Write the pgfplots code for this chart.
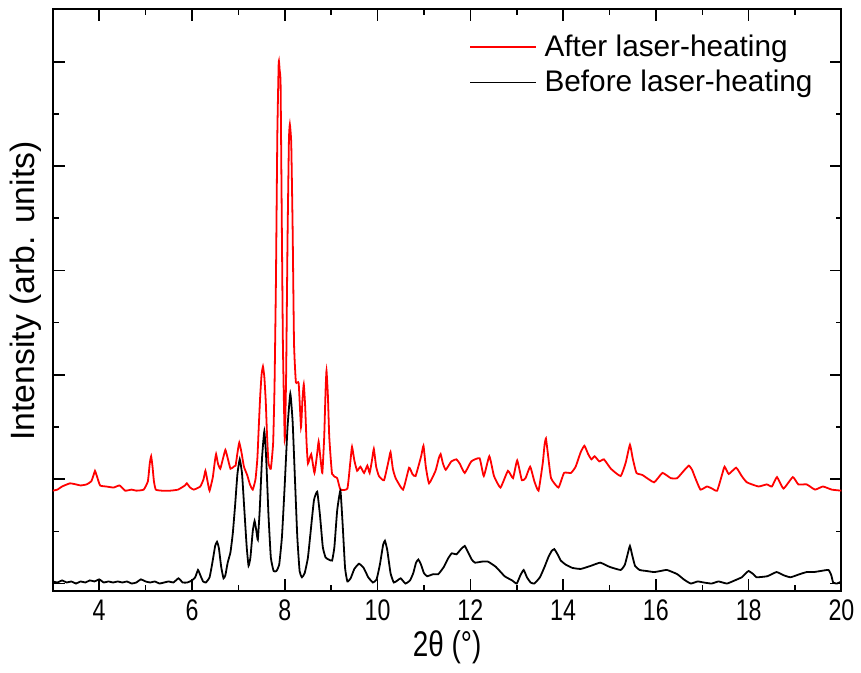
\documentclass[border=0pt]{standalone}
\usepackage{fontspec}
\setmainfont{Liberation Sans}
\newfontfamily\narrowfont[FakeStretch=0.78]{Liberation Sans}
\usepackage{pgfplots}
\pgfplotsset{compat=1.18}

% XRD pattern before laser heating
\pgfplotstableread{
x y
3.00 0.02
3.10 0.01
3.20 0.03
3.30 0.01
3.40 0.02
3.50 0.00
3.60 0.02
3.70 0.01
3.80 0.03
3.90 0.02
4.00 0.04
4.10 0.01
4.20 0.02
4.30 0.01
4.40 0.02
4.50 0.01
4.60 0.02
4.70 0.00
4.80 0.01
4.90 0.04
5.00 0.02
5.10 0.01
5.20 0.02
5.30 0.00
5.40 0.01
5.50 0.02
5.60 0.01
5.71 0.05
5.80 0.01
5.90 0.01
6.00 0.03
6.07 0.06
6.13 0.13
6.18 0.08
6.24 0.02
6.30 0.01
6.38 0.06
6.44 0.20
6.50 0.36
6.54 0.40
6.58 0.34
6.63 0.16
6.68 0.05
6.72 0.08
6.77 0.20
6.83 0.30
6.88 0.48
6.93 0.75
6.98 1.05
7.03 1.19
7.08 1.05
7.13 0.70
7.18 0.35
7.22 0.17
7.26 0.25
7.31 0.50
7.35 0.60
7.39 0.50
7.42 0.42
7.46 0.70
7.51 1.20
7.56 1.46
7.60 1.20
7.65 0.65
7.70 0.25
7.76 0.12
7.82 0.12
7.88 0.18
7.94 0.45
8.00 0.95
8.06 1.50
8.12 1.82
8.17 1.55
8.22 1.00
8.27 0.45
8.32 0.12
8.37 0.06
8.43 0.10
8.50 0.25
8.57 0.55
8.63 0.80
8.70 0.88
8.76 0.65
8.82 0.35
8.88 0.25
8.95 0.23
9.02 0.22
9.07 0.35
9.13 0.70
9.20 0.89
9.25 0.55
9.30 0.15
9.35 0.02
9.42 0.05
9.50 0.14
9.60 0.19
9.70 0.15
9.80 0.06
9.90 0.01
9.98 0.04
10.05 0.18
10.12 0.37
10.16 0.41
10.21 0.32
10.28 0.10
10.35 0.01
10.43 0.03
10.50 0.05
10.60 0.00
10.70 0.03
10.77 0.10
10.83 0.20
10.88 0.23
10.93 0.19
11.00 0.10
11.07 0.07
11.20 0.09
11.31 0.09
11.43 0.16
11.52 0.24
11.60 0.29
11.70 0.28
11.80 0.33
11.88 0.36
11.95 0.30
12.03 0.23
12.10 0.20
12.25 0.21
12.38 0.21
12.55 0.16
12.74 0.07
12.90 0.03
13.00 0.00
13.08 0.08
13.15 0.13
13.22 0.06
13.30 0.01
13.38 0.00
13.50 0.06
13.60 0.16
13.68 0.25
13.75 0.31
13.81 0.33
13.88 0.28
13.95 0.22
14.06 0.18
14.20 0.15
14.38 0.14
14.60 0.17
14.80 0.20
15.00 0.16
15.24 0.13
15.33 0.18
15.39 0.28
15.44 0.36
15.49 0.27
15.55 0.17
15.65 0.13
15.80 0.12
15.96 0.11
16.10 0.12
16.24 0.13
16.46 0.09
16.60 0.04
16.75 0.00
16.90 0.02
17.03 0.01
17.20 0.00
17.35 0.02
17.53 0.00
17.70 0.03
17.85 0.06
17.94 0.10
18.00 0.12
18.10 0.09
18.17 0.06
18.40 0.07
18.60 0.11
18.75 0.08
18.90 0.06
19.10 0.09
19.25 0.11
19.40 0.11
19.55 0.12
19.72 0.13
19.78 0.08
19.82 0.01
19.90 0.00
20.00 0.02
}\before

% XRD pattern after laser heating (offset)
\pgfplotstableread{
x y
3.00 0.89
3.10 0.90
3.20 0.93
3.37 0.96
3.50 0.95
3.60 0.94
3.73 0.95
3.83 0.98
3.88 1.04
3.91 1.08
3.95 1.03
4.02 0.94
4.15 0.93
4.31 0.92
4.44 0.94
4.56 0.89
4.70 0.90
4.80 0.89
4.96 0.90
5.05 0.98
5.09 1.15
5.12 1.22
5.15 1.12
5.18 0.98
5.22 0.90
5.35 0.89
5.53 0.89
5.70 0.90
5.85 0.94
5.89 0.96
5.96 0.92
6.04 0.90
6.18 0.93
6.25 1.00
6.29 1.08
6.34 0.97
6.38 0.89
6.45 1.02
6.49 1.16
6.52 1.24
6.56 1.15
6.61 1.10
6.67 1.20
6.72 1.28
6.76 1.22
6.83 1.10
6.90 1.12
6.94 1.13
6.98 1.25
7.02 1.35
7.07 1.25
7.12 1.12
7.19 1.04
7.25 0.95
7.31 0.90
7.37 1.00
7.41 1.20
7.44 1.50
7.47 1.79
7.50 2.00
7.53 2.08
7.56 1.98
7.59 1.75
7.62 1.40
7.65 1.15
7.70 1.10
7.75 1.35
7.78 1.90
7.81 2.90
7.84 4.30
7.87 5.00
7.89 4.92
7.91 4.80
7.93 3.80
7.96 2.30
8.00 1.38
8.03 2.00
8.06 3.30
8.09 4.25
8.11 4.40
8.14 4.22
8.17 3.40
8.20 2.30
8.24 1.93
8.30 1.92
8.35 1.50
8.38 1.75
8.41 1.91
8.44 1.70
8.47 1.35
8.50 1.15
8.57 1.24
8.64 1.06
8.70 1.25
8.73 1.36
8.77 1.20
8.81 1.06
8.85 1.40
8.88 1.85
8.90 2.04
8.93 1.80
8.96 1.40
9.02 1.05
9.13 1.01
9.20 0.90
9.35 0.91
9.41 1.15
9.45 1.31
9.50 1.18
9.56 1.08
9.63 1.12
9.71 1.06
9.78 1.13
9.83 1.06
9.88 1.18
9.92 1.29
9.97 1.12
10.03 1.03
10.14 0.99
10.24 1.18
10.28 1.26
10.33 1.10
10.39 1.01
10.55 0.90
10.68 1.11
10.75 1.05
10.82 1.03
10.94 1.22
10.99 1.32
11.04 1.12
11.11 0.96
11.25 1.08
11.32 1.20
11.36 1.24
11.41 1.15
11.47 1.09
11.59 1.17
11.70 1.19
11.77 1.15
11.88 1.06
12.02 1.17
12.20 1.20
12.29 1.03
12.41 1.22
12.51 1.03
12.65 0.92
12.81 1.08
12.92 1.01
13.01 1.18
13.11 0.99
13.19 1.01
13.29 1.12
13.38 0.98
13.47 0.89
13.56 1.15
13.60 1.33
13.63 1.39
13.67 1.25
13.74 1.01
13.90 0.92
14.02 1.06
14.17 1.06
14.27 1.12
14.38 1.26
14.46 1.32
14.54 1.24
14.61 1.19
14.68 1.22
14.78 1.17
14.88 1.19
15.03 1.10
15.24 1.03
15.35 1.16
15.44 1.33
15.50 1.20
15.58 1.06
15.71 1.04
15.96 0.97
16.14 1.06
16.32 1.01
16.46 1.01
16.60 1.08
16.71 1.13
16.78 1.09
16.85 1.01
16.96 0.90
17.10 0.93
17.21 0.91
17.32 0.89
17.43 1.05
17.48 1.12
17.57 1.05
17.73 1.11
17.85 1.03
17.96 0.97
18.21 0.93
18.39 0.95
18.50 0.93
18.61 1.02
18.75 0.91
18.95 1.02
19.07 0.95
19.25 0.95
19.43 0.90
19.60 0.93
19.79 0.90
20.00 0.89
}\after

\begin{document}
\begin{tikzpicture}
\begin{axis}[
  name=ax,
  scale only axis,
  width=396bp, height=292bp,
  xmin=3, xmax=20,
  ymin=-0.067, ymax=5.506,
  xtick={4,6,...,20},
  minor x tick num=1,
  ytick={0,1,...,5},
  minor y tick num=1,
  yticklabels={},
  tick align=inside,
  major tick length=6bp,
  minor tick length=3bp,
  every tick/.style={black, line width=0.8bp},
  axis line style={line width=1bp},
  /pgf/number format/assume math mode=true,
  xticklabel style={font=\narrowfont\fontsize{15}{15}\selectfont, yshift=-1bp},
  xlabel={\narrowfont 2θ (°)},
  xlabel style={font=\fontsize{18}{18}\selectfont, at={(axis description cs:0.5,-0.0976)}, anchor=center},
  ylabel={Intensity (arb. units)},
  ylabel style={font=\fontsize{17}{17}\selectfont, at={(axis description cs:-0.034,0.515)}, anchor=center},
  legend style={draw=none, fill=none, at={(axis description cs:0.52,0.97)}, anchor=north west,
    font=\fontsize{15}{15}\selectfont, row sep=1.5bp,
    nodes={inner xsep=4bp}},
  legend cell align=left,
  legend image code/.code={\draw[#1, line width=0.8bp] (0bp,0bp) -- (33bp,0bp);},
]
\addplot[red, line width=0.9bp, smooth, tension=0.25] table[x=x, y=y] {\after};
\addlegendentry{After laser-heating}
\addplot[black, line width=0.9bp, smooth, tension=0.25] table[x=x, y=y] {\before};
\addlegendentry{Before laser-heating}
\end{axis}
\path ([xshift=-26.5bp, yshift=-41bp]ax.south west) rectangle ([xshift=8bp, yshift=4.5bp]ax.north east);
\end{tikzpicture}
\end{document}
